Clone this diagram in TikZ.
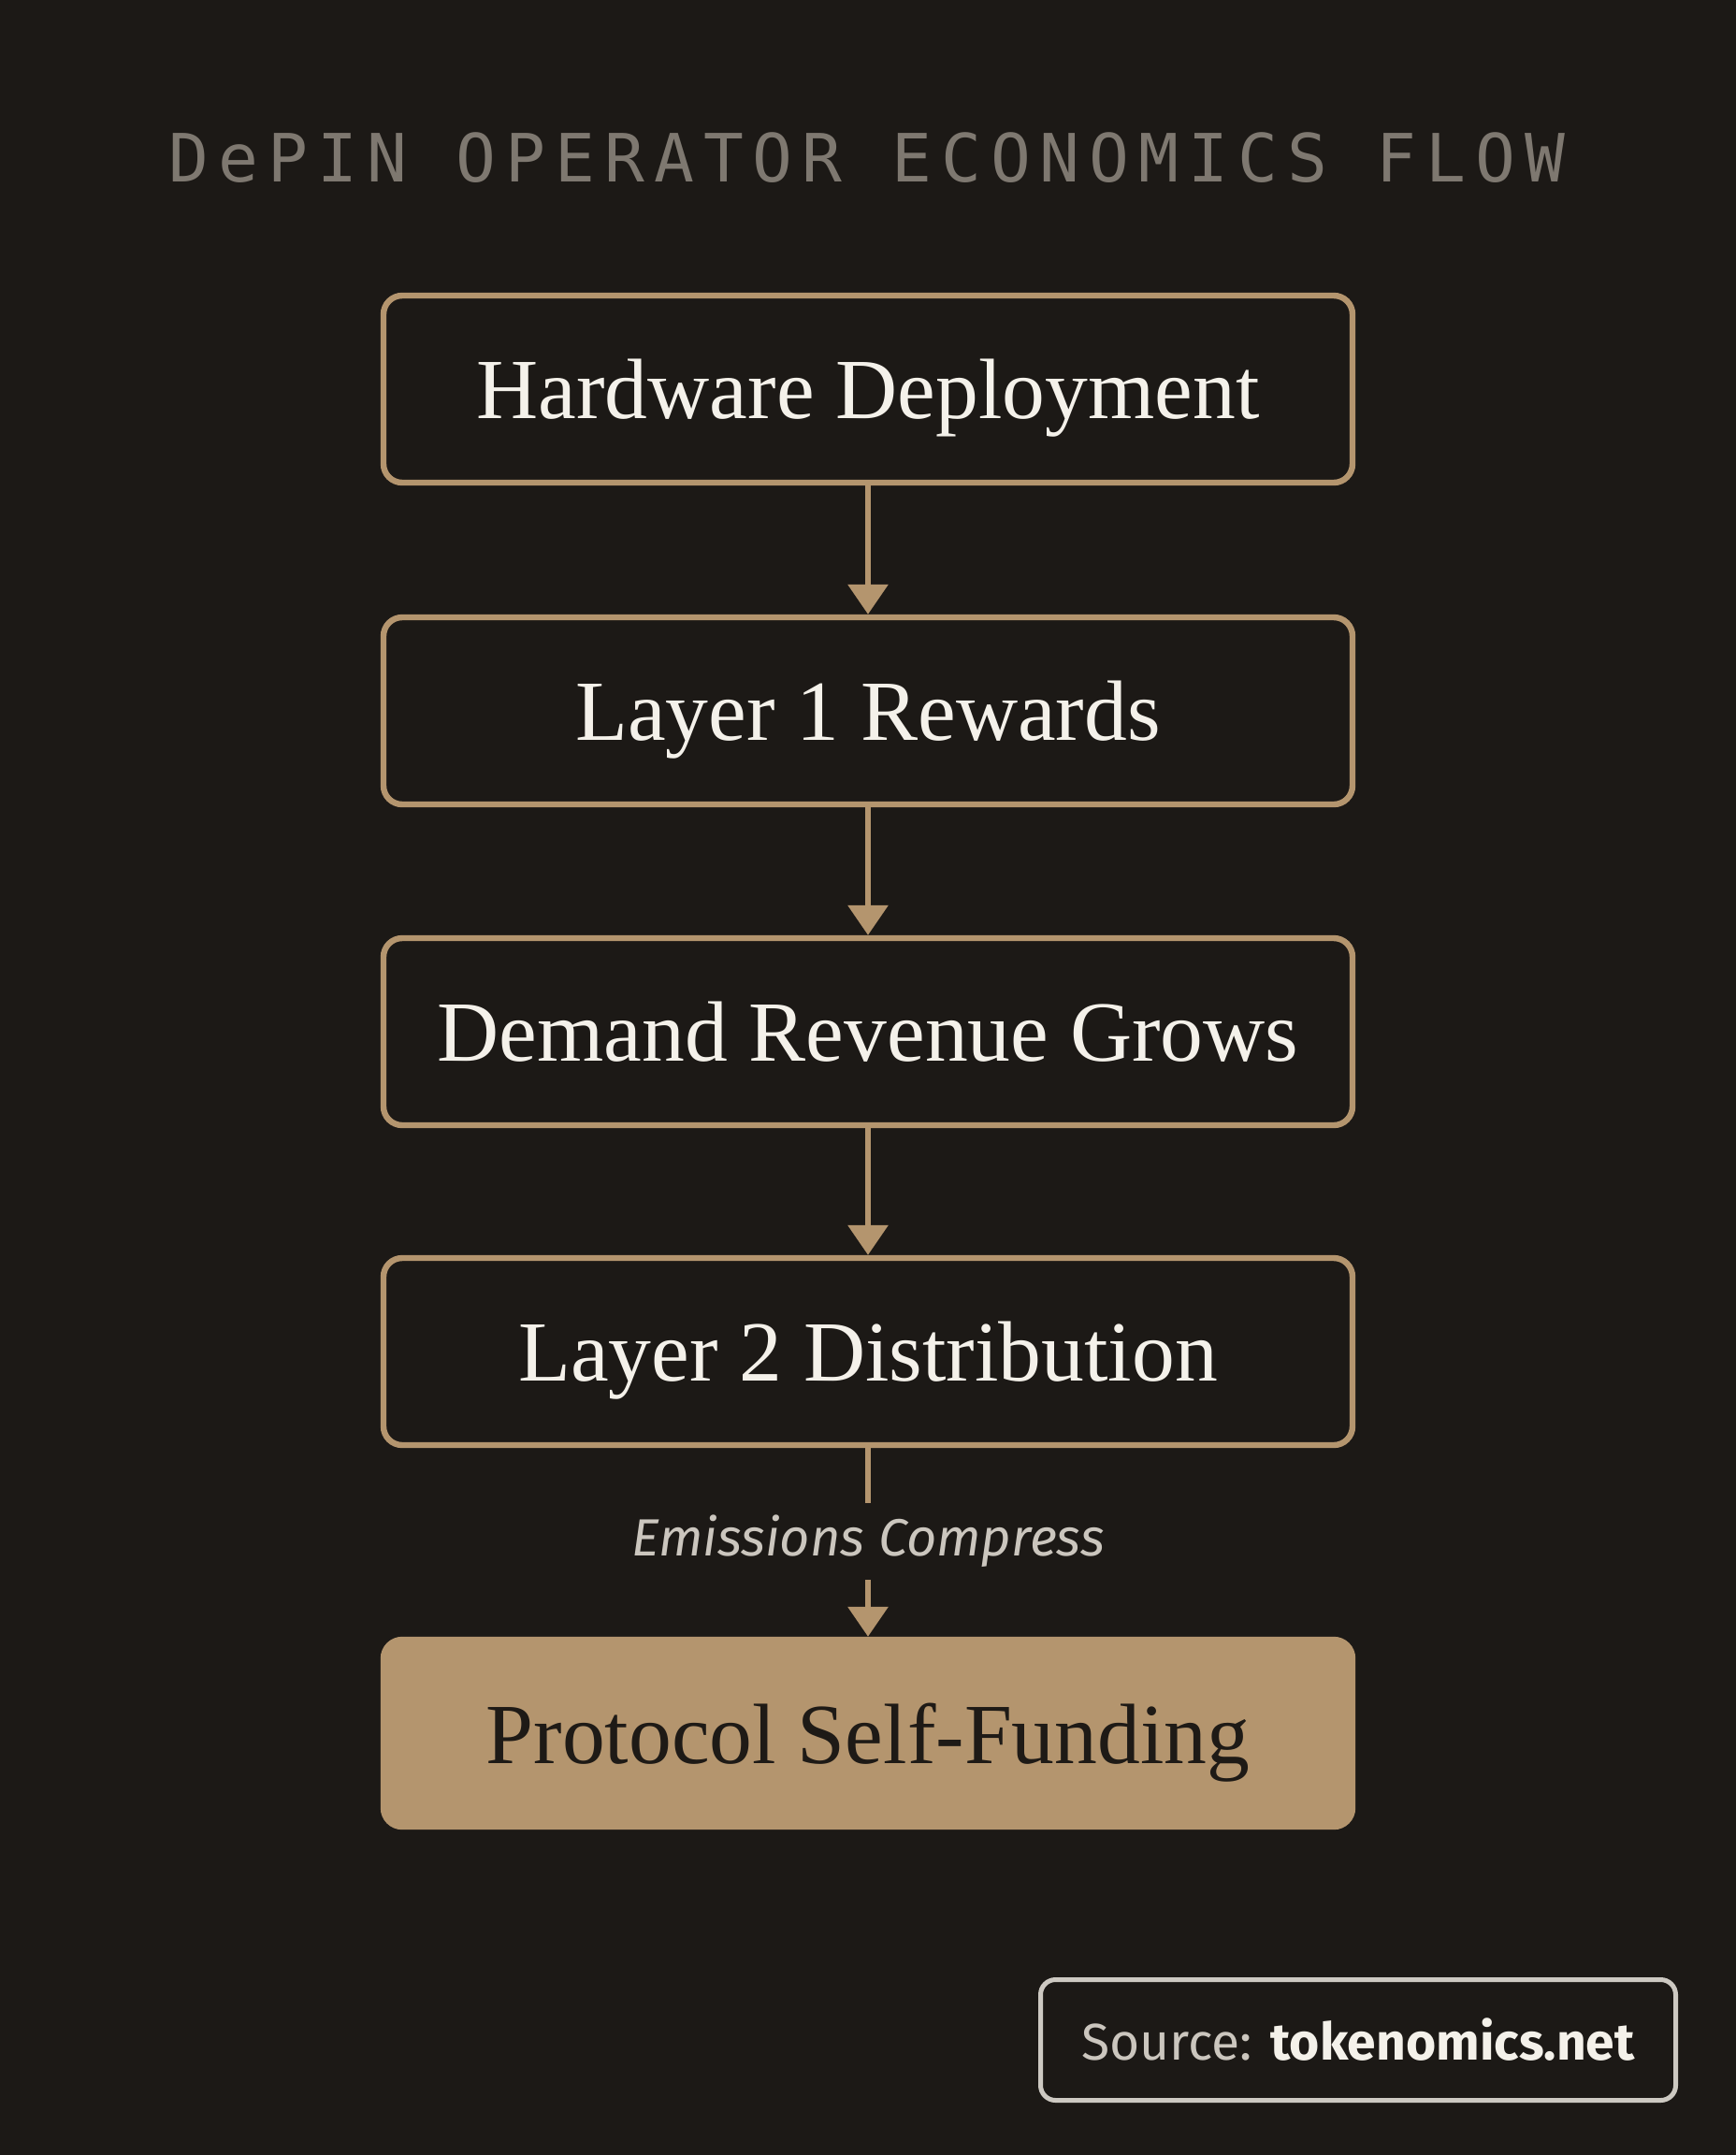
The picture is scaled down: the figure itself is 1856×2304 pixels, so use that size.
\documentclass[tikz,border=0pt]{standalone}
\usepackage{xcolor}
\usepackage{fontspec}
\usepackage{tikz}
\usetikzlibrary{arrows.meta}
\setmainfont{Liberation Serif}
\newfontfamily\titlefont[LetterSpace=14]{DejaVu Sans Mono}
\newfontfamily\labelfont{Fira Sans}
\definecolor{bgcol}{HTML}{1C1916}
\definecolor{tan}{HTML}{B4956E}
\definecolor{titlegray}{HTML}{7E7870}
\definecolor{labelgray}{HTML}{CBC6BE}
\definecolor{boxtext}{HTML}{F4F1EA}
\definecolor{darktext}{HTML}{1E1A16}
\definecolor{framegray}{HTML}{CDC9C2}
\tikzset{
    stepbox/.style={draw=tan, line width=3.2pt, rounded corners=10pt, minimum width=518pt, minimum height=100pt, text depth=0pt, text=boxtext, font=\fontsize{45.8}{54}\selectfont},
    endbox/.style={stepbox, fill=tan, text=darktext},
    flow/.style={draw=tan, line width=3.2pt, -{Triangle[width=21pt,length=16pt]}}
}
\begin{document}
\begin{tikzpicture}[x=0.5pt, y=-0.5pt]
        \fill[bgcol] (0,0) rectangle (1856,2304);
        \useasboundingbox (0,0) rectangle (1856,2304);
        \node[text=titlegray, font=\titlefont\fontsize{35.6}{40}\selectfont] (title) at (927,169) {DePIN OPERATOR ECONOMICS FLOW};
        \node[stepbox] (hardware) at (928,416) {Hardware Deployment};
        \node[stepbox] (layerone) at (928,760) {Layer 1 Rewards};
        \node[stepbox] (demand) at (928,1103) {Demand Revenue Grows};
        \node[stepbox] (layertwo) at (928,1445) {Layer 2 Distribution};
        \node[inner sep=0pt, minimum height=41pt, text=labelgray, font=\labelfont\itshape\fontsize{28}{34}\selectfont] (emissions) at (928,1648) {Emissions Compress};
        \node[endbox] (selffund) at (928,1853) {Protocol Self-Funding};
        \draw[flow] (hardware) -- (layerone);
        \draw[flow] (layerone) -- (demand);
        \draw[flow] (demand) -- (layertwo);
        \draw[draw=tan, line width=3.2pt] (layertwo) -- (emissions);
        \draw[flow] (emissions) -- (selffund);
        \node[draw=framegray, line width=2.5pt, rounded corners=8pt, minimum width=339.5pt, minimum height=64.5pt, font=\labelfont\fontsize{27.6}{33}\selectfont] (source) at (1452,2181) {\textcolor{labelgray}{Source:} \textcolor{boxtext}{\bfseries tokenomics.net}};
    \end{tikzpicture}
\end{document}
